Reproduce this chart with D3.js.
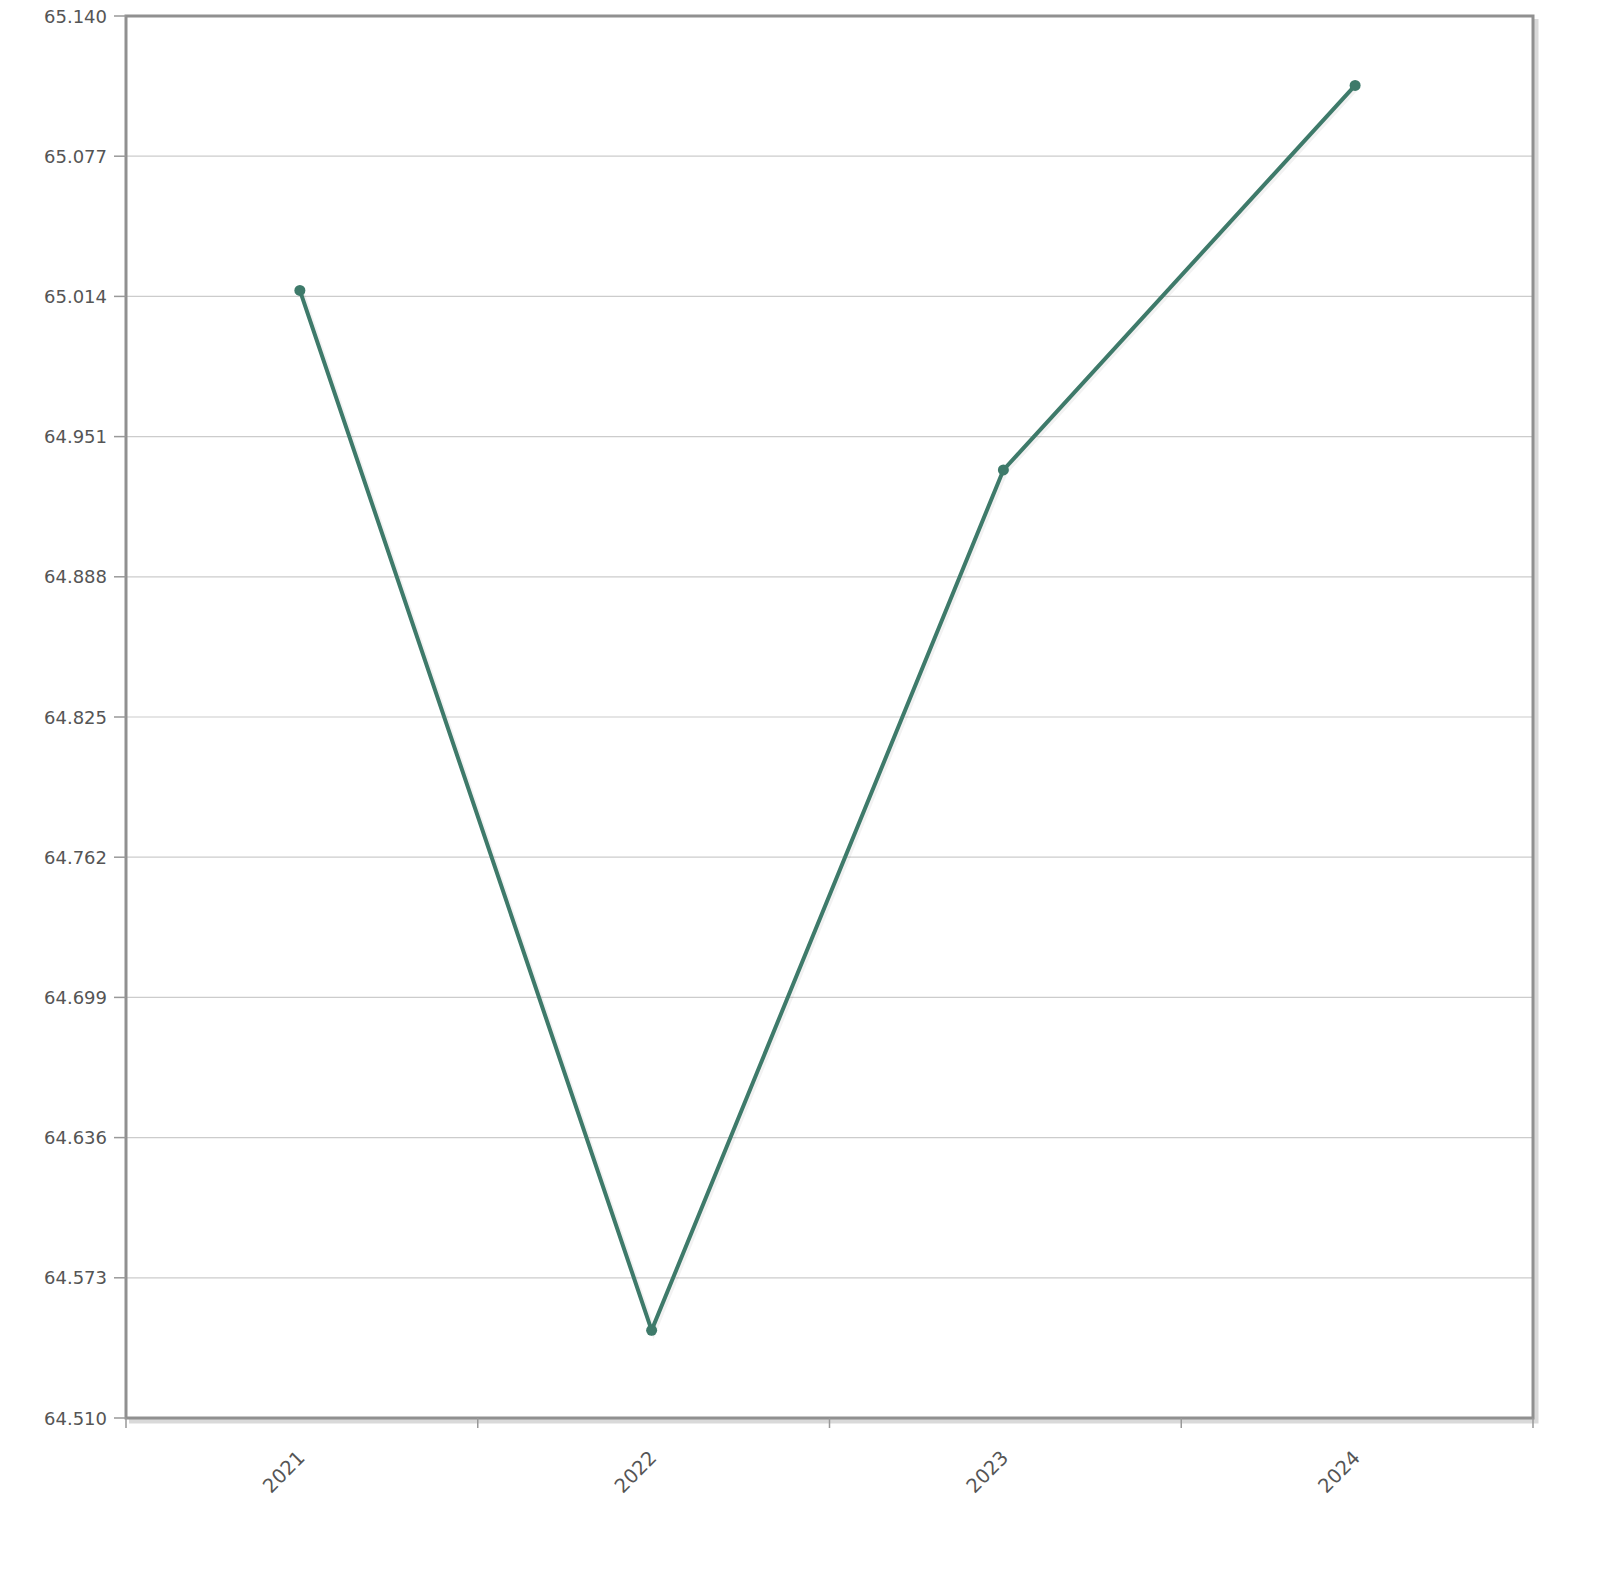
<!DOCTYPE html>
<html>
<head>
<meta charset="utf-8">
<script src="https://cdn.jsdelivr.net/npm/d3@7"></script>
<style>
  body { margin: 0; background: #fff; }
  text { font-family: "DejaVu Sans", sans-serif; fill: #555; }
</style>
</head>
<body>
<div id="chart"></div>
<script>
// 数据
const years = ["2021", "2022", "2023", "2024"];
const values = [65.0167, 64.5494, 64.936, 65.1088];
const yTicks = [64.510, 64.573, 64.636, 64.699, 64.762, 64.825, 64.888, 64.951, 65.014, 65.077, 65.140];

const width = 1600, height = 1578;
const margin = {left: 126, top: 16, right: 67, bottom: 160};

const svg = d3.select("#chart").append("svg")
    .attr("width", width)
    .attr("height", height);

const x = d3.scaleBand()
    .domain(years)
    .range([margin.left, width - margin.right]);

const y = d3.scaleLinear()
    .domain([64.510, 65.140])
    .range([height - margin.bottom, margin.top]);

const plotW = width - margin.right - margin.left;
const plotH = height - margin.bottom - margin.top;

// 网格线
svg.append("g")
    .selectAll("line")
    .data(yTicks)
    .join("line")
    .attr("x1", margin.left)
    .attr("x2", width - margin.right)
    .attr("y1", d => y(d))
    .attr("y2", d => y(d))
    .attr("stroke", "#cccccc")
    .attr("stroke-width", 1.2);

// 边框阴影
svg.append("path")
    .attr("d", `M${margin.left + 3},${margin.top + plotH + 3}H${margin.left + plotW + 3}V${margin.top + 3}`)
    .attr("fill", "none")
    .attr("stroke", "#000")
    .attr("stroke-opacity", 0.15)
    .attr("stroke-width", 5);

// 边框
svg.append("rect")
    .attr("x", margin.left)
    .attr("y", margin.top)
    .attr("width", plotW)
    .attr("height", plotH)
    .attr("fill", "none")
    .attr("stroke", "#909090")
    .attr("stroke-width", 3);

// Y轴刻度
const yAxis = svg.append("g");
yTicks.forEach(t => {
    yAxis.append("line")
        .attr("x1", margin.left - 12)
        .attr("x2", margin.left)
        .attr("y1", y(t))
        .attr("y2", y(t))
        .attr("stroke", "#999")
        .attr("stroke-width", 1.5);
    yAxis.append("text")
        .attr("x", margin.left - 19)
        .attr("y", y(t))
        .attr("text-anchor", "end")
        .attr("dominant-baseline", "central")
        .style("font-size", "18px")
        .text(t.toFixed(3));
});

// X轴刻度（类别边界）
const bounds = years.map(d => x(d)).concat([x(years[years.length - 1]) + x.bandwidth()]);
svg.append("g")
    .selectAll("line")
    .data(bounds)
    .join("line")
    .attr("x1", d => d)
    .attr("x2", d => d)
    .attr("y1", margin.top + plotH)
    .attr("y2", margin.top + plotH + 10)
    .attr("stroke", "#999")
    .attr("stroke-width", 1.5);

// X轴标签
svg.append("g")
    .selectAll("text")
    .data(years)
    .join("text")
    .attr("transform", d => `translate(${x(d) + x.bandwidth() / 2 - 18},${margin.top + plotH + 54}) rotate(-45)`)
    .attr("text-anchor", "middle")
    .attr("dominant-baseline", "central")
    .style("font-size", "19.5px")
    .text(d => d);

// 折线
const line = d3.line()
    .x((d, i) => x(years[i]) + x.bandwidth() / 2 - 2)
    .y(d => y(d));

const lineColor = "#3e7a6a";

// 线阴影
svg.append("path")
    .datum(values)
    .attr("d", line)
    .attr("transform", "translate(2,2)")
    .attr("fill", "none")
    .attr("stroke", "#000")
    .attr("stroke-opacity", 0.05)
    .attr("stroke-width", 5);

svg.append("path")
    .datum(values)
    .attr("d", line)
    .attr("fill", "none")
    .attr("stroke", lineColor)
    .attr("stroke-width", 4);

svg.append("g")
    .selectAll("circle")
    .data(values)
    .join("circle")
    .attr("cx", (d, i) => x(years[i]) + x.bandwidth() / 2 - 2)
    .attr("cy", d => y(d))
    .attr("r", 5.5)
    .attr("fill", lineColor);
</script>
</body>
</html>
